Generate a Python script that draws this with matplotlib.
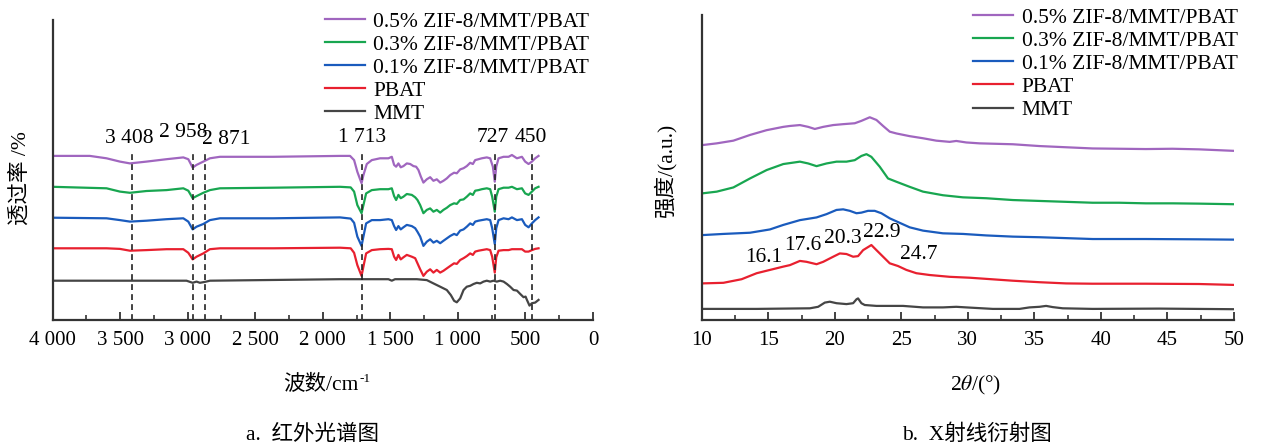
import matplotlib
matplotlib.use("Agg")
import matplotlib.pyplot as plt
from matplotlib.ticker import MultipleLocator, FuncFormatter

plt.rcParams["font.family"] = ["Liberation Serif", "Noto Sans CJK SC"]
plt.rcParams["mathtext.fontset"] = "stix"

# ---- FTIR (a) ----
ir_labels = ["0.5% ZIF-8/MMT/PBAT", "0.3% ZIF-8/MMT/PBAT", "0.1% ZIF-8/MMT/PBAT", "PBAT", "MMT"]

ir_wn_05 = [4000, 3724, 3600, 3501, 3427, 3304, 3156, 3032, 2995, 2963, 2934, 2884, 2835, 2761, 2366,
            1872, 1798, 1768, 1744, 1713, 1699, 1674, 1637, 1576, 1514, 1489, 1472, 1457, 1440, 1423,
            1403, 1378, 1353, 1329, 1309, 1292, 1274, 1255, 1230, 1205, 1181, 1156, 1131, 1107, 1082,
            1057, 1028, 1008, 983, 958, 934, 909, 889, 872, 847, 823, 786, 761, 741, 727, 716, 699,
            662, 625, 600, 563, 526, 502, 477, 452, 428, 403]
ir_t_05 = [54.7, 54.7, 53.9, 52.8, 52.2, 52.8, 53.6, 54.2, 53.6, 50.8, 51.7, 52.8, 53.9, 54.4, 54.4,
           54.7, 54.7, 53.3, 49.4, 45.6, 48.3, 52.0, 53.3, 53.9, 53.9, 54.4, 51.7, 51.1, 52.2, 50.9,
           51.3, 52.2, 52.0, 51.3, 51.1, 50.0, 47.8, 45.8, 46.9, 47.6, 46.4, 46.9, 45.8, 46.4, 47.2,
           48.3, 49.1, 48.9, 50.2, 50.6, 51.3, 52.4, 52.0, 53.3, 53.6, 53.9, 54.2, 53.9, 51.1, 46.1, 51.1, 53.9,
           54.4, 54.4, 55.0, 53.9, 54.4, 52.8, 52.0, 52.8, 53.9, 54.7]

ir_wn = [4000, 3600, 3501, 3427, 3304, 3156, 3032, 2995, 2963, 2934, 2884, 2835, 2761, 2366, 1872,
         1793, 1768, 1744, 1713, 1699, 1679, 1637, 1576, 1514, 1489, 1472, 1457, 1440, 1423, 1403,
         1378, 1341, 1316, 1299, 1279, 1255, 1230, 1205, 1181, 1156, 1131, 1107, 1082, 1057, 1028,
         1008, 983, 958, 934, 909, 889, 872, 847, 823, 786, 761, 746, 727, 716, 699,
         662, 625, 600, 563, 526, 502, 477, 452, 428, 403]
ir_t_03 = [44.4, 43.9, 42.8, 42.4, 43.0, 43.3, 43.9, 43.1, 40.6, 41.3, 42.4, 43.3, 43.9, 44.1, 44.4,
           44.2, 42.8, 38.3, 35.6, 38.3, 42.2, 43.3, 43.6, 43.6, 43.9, 41.3, 40.0, 41.7, 40.6, 41.1,
           42.0, 41.7, 40.9, 40.0, 38.3, 35.6, 36.7, 37.2, 36.1, 36.7, 35.8, 36.7, 37.4, 38.3, 38.9,
           38.7, 40.0, 40.2, 41.1, 42.2, 41.7, 43.1, 43.3, 43.6, 43.9, 43.6, 41.1, 36.1, 41.1, 43.6,
           44.1, 44.1, 44.4, 43.6, 43.9, 42.2, 41.7, 42.8, 43.9, 44.4]
ir_t_01 = [34.1, 33.9, 33.3, 32.8, 33.1, 33.6, 33.9, 32.8, 30.2, 31.1, 32.0, 33.3, 33.9, 33.9, 34.2,
           33.8, 32.4, 27.8, 24.7, 27.8, 32.2, 33.3, 33.3, 33.6, 33.3, 31.3, 30.0, 31.3, 30.2, 30.9,
           31.7, 31.3, 30.6, 29.4, 27.8, 24.7, 26.1, 26.9, 25.8, 26.4, 25.6, 26.4, 27.2, 28.0, 28.7,
           28.3, 29.8, 30.2, 31.1, 32.2, 31.7, 32.8, 33.1, 33.3, 33.6, 33.3, 30.6, 25.3, 30.6, 33.3,
           33.9, 33.6, 34.2, 33.3, 33.6, 31.7, 30.9, 32.2, 33.3, 34.2]
ir_t_pbat = [23.9, 23.9, 23.7, 23.1, 23.3, 23.6, 23.6, 22.4, 20.2, 21.1, 22.2, 23.6, 23.9, 23.9, 24.1,
             23.9, 22.4, 18.3, 14.7, 17.8, 22.2, 23.3, 23.6, 23.7, 23.6, 21.1, 20.0, 21.7, 20.2, 20.9,
             21.7, 21.1, 20.6, 18.9, 16.9, 14.7, 16.1, 16.9, 15.8, 16.7, 15.8, 16.4, 17.2, 18.0, 18.9,
             18.7, 20.0, 20.6, 21.3, 22.2, 21.7, 22.8, 23.1, 23.3, 23.6, 23.3, 21.1, 15.8, 20.9, 23.1,
             23.3, 23.3, 23.6, 23.6, 23.6, 22.8, 22.8, 23.3, 23.7, 23.9]

ir_wn_mmt = [4000, 3008, 2963, 2934, 2909, 2872, 2835, 1872, 1514, 1489, 1465, 1304, 1230, 1181, 1131,
             1082, 1052, 1028, 1008, 983, 958, 934, 909, 884, 860, 835, 810, 786, 761, 736,
             712, 687, 662, 637, 613, 588, 563, 539, 514, 499, 489, 470, 452, 428, 403]
ir_t_mmt = [13.1, 13.1, 12.4, 12.8, 12.4, 12.7, 13.1, 13.6, 13.6, 13.1, 13.6, 13.6, 13.3, 12.2, 11.1,
            10.0, 8.3, 6.4, 5.9, 7.2, 10.0, 11.1, 11.4, 12.0, 12.4, 12.2, 12.8, 13.1, 12.8, 13.1,
            12.8, 13.1, 12.8, 12.0, 11.1, 10.0, 9.8, 8.7, 7.6, 7.8, 6.7, 4.8, 5.6, 5.8, 6.7]

ir_peaks = [3408, 2958, 2871, 1713, 727, 450]
ir_peak_text = ["3 408", "2 958", "2 871", "1 713", "727", "450"]

# ---- XRD (b) ----
xrd_2t_05 = [10.0, 11.13, 12.38, 13.63, 14.88, 16.13, 16.63, 17.38, 18.0, 18.5, 19.13, 19.88, 20.63, 21.5,
             22.0, 22.63, 23.13, 23.63, 24.13, 24.63, 25.63, 26.63, 27.63, 28.63, 29.13, 29.88, 30.88,
             33.38, 35.38, 37.38, 39.38, 41.38, 43.38, 45.38, 47.38, 50.0]
xrd_i_05 = [58.3, 58.9, 59.8, 61.7, 63.3, 64.4, 64.7, 65.0, 64.4, 63.7, 64.4, 65.0, 65.3, 65.6,
            66.4, 67.6, 66.7, 64.7, 62.8, 62.2, 61.3, 60.6, 59.8, 59.4, 59.7, 59.2, 58.9,
            58.6, 58.0, 57.6, 57.2, 57.1, 57.0, 57.1, 56.9, 56.4]
xrd_2t_03 = [10.0, 11.13, 12.38, 13.63, 14.88, 16.13, 17.38, 18.0, 18.63, 19.38, 20.13, 20.88, 21.5, 22.0,
             22.38, 22.75, 23.38, 24.0, 24.63, 25.63, 26.63, 28.13, 29.63, 31.38, 33.38, 35.38, 37.38,
             39.38, 41.38, 43.38, 45.38, 47.38, 50.0]
xrd_i_03 = [42.2, 42.8, 44.2, 47.2, 50.0, 52.0, 52.8, 52.2, 51.3, 52.2, 52.8, 52.8, 53.3, 54.7,
            55.3, 54.4, 51.1, 47.2, 46.1, 44.4, 42.8, 41.6, 40.9, 40.6, 40.0, 39.7, 39.4,
            39.1, 39.1, 38.9, 38.9, 38.8, 38.6]
xrd_2t_01 = [10.0, 11.63, 13.63, 15.13, 16.13, 17.38, 18.63, 19.38, 20.13, 20.63, 21.13, 21.63, 22.0, 22.5,
             23.0, 23.5, 24.13, 24.88, 25.63, 26.63, 28.13, 29.63, 31.38, 33.38, 35.38, 37.38, 39.38,
             43.38, 47.38, 50.0]
xrd_i_01 = [28.3, 28.7, 29.1, 30.2, 31.7, 33.3, 34.2, 35.3, 36.7, 36.9, 36.4, 35.6, 35.8, 36.4,
            36.4, 35.6, 33.9, 32.4, 30.9, 29.8, 28.9, 28.7, 28.2, 27.8, 27.6, 27.3, 27.0,
            27.0, 26.9, 26.8]
xrd_2t_pbat = [10.0, 11.63, 13.0, 14.13, 15.13, 16.13, 16.63, 17.38, 17.88, 18.63, 19.13, 19.88, 20.38,
               20.88, 21.38, 21.75, 22.13, 22.75, 23.13, 23.63, 24.13, 24.75, 25.38, 26.13, 27.13, 28.63,
               30.13, 33.38, 35.38, 37.38, 39.38, 43.38, 47.38, 50.0]
xrd_i_pbat = [12.2, 12.4, 13.6, 15.6, 16.7, 17.8, 18.3, 19.7, 19.4, 18.6, 19.4, 21.1, 22.2,
              22.0, 21.1, 21.3, 23.3, 25.0, 23.3, 21.1, 18.9, 18.0, 16.7, 15.6, 15.0, 14.4,
              14.1, 13.1, 12.6, 12.2, 12.1, 12.1, 12.0, 11.7]
xrd_2t_mmt = [10.0, 14.13, 18.13, 18.75, 19.25, 19.63, 20.13, 20.88, 21.38, 21.63, 21.75, 22.0, 22.25,
              23.13, 24.13, 25.13, 26.63, 28.13, 29.13, 29.88, 31.88, 33.88, 34.63, 35.38, 35.88,
              36.38, 37.13, 39.38, 44.38, 50.0]
xrd_i_mmt = [3.7, 3.7, 3.9, 4.4, 5.8, 6.1, 5.6, 5.3, 5.6, 6.9, 7.2, 5.6, 5.0,
             4.7, 4.7, 4.7, 4.2, 4.2, 4.4, 4.2, 3.7, 3.7, 4.2, 4.4, 4.7,
             4.3, 3.9, 3.7, 3.8, 3.6]

xrd_peak_text = ["16.1", "17.6", "20.3", "22.9", "24.7"]

colors = ["#a066bf", "#18a650", "#1a5bbd", "#e8202f", "#454545"]

# label anchor positions (layout only)
ir_text_pos = [(3435, 60.5), (3031, 62.5), (2713, 60.2), (1709, 61.0), (745, 61.0), (462, 61.0)]
xrd_text_pos = [(14.67, 20.7), (17.6, 24.7), (20.6, 27.3), (23.56, 29.3), (26.3, 22.0)]

W, H = 1262, 446
fig = plt.figure(figsize=(W / 100, H / 100), dpi=100)
ax1 = fig.add_axes([52.5 / W, 126 / H, 540.5 / W, 300 / H])
ax2 = fig.add_axes([701.7 / W, 126 / H, 532.3 / W, 305 / H])

lw = 1.6
ir_series = [(ir_wn_05, ir_t_05), (ir_wn, ir_t_03), (ir_wn, ir_t_01), (ir_wn, ir_t_pbat), (ir_wn_mmt, ir_t_mmt)]
for (x, y), c, lab in zip(ir_series, colors, ir_labels):
    ax1.plot(x, y, color=c, lw=lw, label=lab, solid_joinstyle="round")

for wn in ir_peaks:
    ax1.plot([wn, wn], [0, 56], color="#222222", lw=1.2, ls=(0, (3.5, 2.5)))
for (tx, ty), s in zip(ir_text_pos, ir_peak_text):
    ax1.text(tx, ty, s, ha="center", va="center", fontsize=15.5)

xrd_series = [(xrd_2t_05, xrd_i_05), (xrd_2t_03, xrd_i_03), (xrd_2t_01, xrd_i_01),
              (xrd_2t_pbat, xrd_i_pbat), (xrd_2t_mmt, xrd_i_mmt)]
for (x, y), c, lab in zip(xrd_series, colors, ir_labels):
    ax2.plot(x, y, color=c, lw=lw, label=lab, solid_joinstyle="round")
for (tx, ty), s in zip(xrd_text_pos, xrd_peak_text):
    ax2.text(tx, ty, s, ha="center", va="center", fontsize=15.5)

ax1.set_xlim(4000, 0)
ax1.set_ylim(0, 100)
ax2.set_xlim(10, 50)
ax2.set_ylim(0, 101.7)

ax1.xaxis.set_major_locator(MultipleLocator(500))
ax1.xaxis.set_minor_locator(MultipleLocator(250))
ax1.xaxis.set_major_formatter(FuncFormatter(lambda v, p: f"{int(v):,}".replace(",", " ")))
ax2.xaxis.set_major_locator(MultipleLocator(5))
ax2.xaxis.set_minor_locator(MultipleLocator(2.5))

for ax in (ax1, ax2):
    for side in ("top", "right"):
        ax.spines[side].set_visible(False)
    for side in ("left", "bottom"):
        ax.spines[side].set_linewidth(1.6)
        ax.spines[side].set_color("#333333")
    ax.set_yticks([])
    ax.tick_params(axis="x", which="major", direction="in", length=6, width=1.3,
                   color="#333333", labelsize=15, pad=8)
    ax.tick_params(axis="x", which="minor", direction="in", length=3.5, width=1.2, color="#333333")
    ax.set_facecolor("none")

leg_kw = dict(loc="upper left", frameon=False, fontsize=15.5, handlelength=1.85,
              handletextpad=0.4, labelspacing=0.14, borderpad=0, borderaxespad=0)
ax1.legend(bbox_to_anchor=(0.504, 1.028), **leg_kw)
ax2.legend(bbox_to_anchor=(0.51, 1.024), **leg_kw)

fig.text(20 / W, 1 - 178 / H, "透过率 /%", rotation=90, ha="center", va="center", fontsize=15.5)
fig.text(665 / W, 1 - 170 / H, "强度/(a.u.)", rotation=90, ha="center", va="center", fontsize=15.5)
# x label of (a): Chinese text plus a small raised "-1"
fig.text(359 / W, 1 - 385 / H, "波数/cm", ha="right", va="center", fontsize=15.5)
fig.text(359.5 / W, 1 - 379 / H, "-1", ha="left", va="center", fontsize=9.5)
fig.text(976 / W, 1 - 385 / H, r"2$\theta$/(°)", ha="center", va="center", fontsize=15.5)
fig.text(313 / W, 1 - 435 / H, "a.  红外光谱图", ha="center", va="center", fontsize=15.5)
fig.text(977 / W, 1 - 435 / H, "b.  X射线衍射图", ha="center", va="center", fontsize=15.5)

fig.savefig("out.png", dpi=100)
